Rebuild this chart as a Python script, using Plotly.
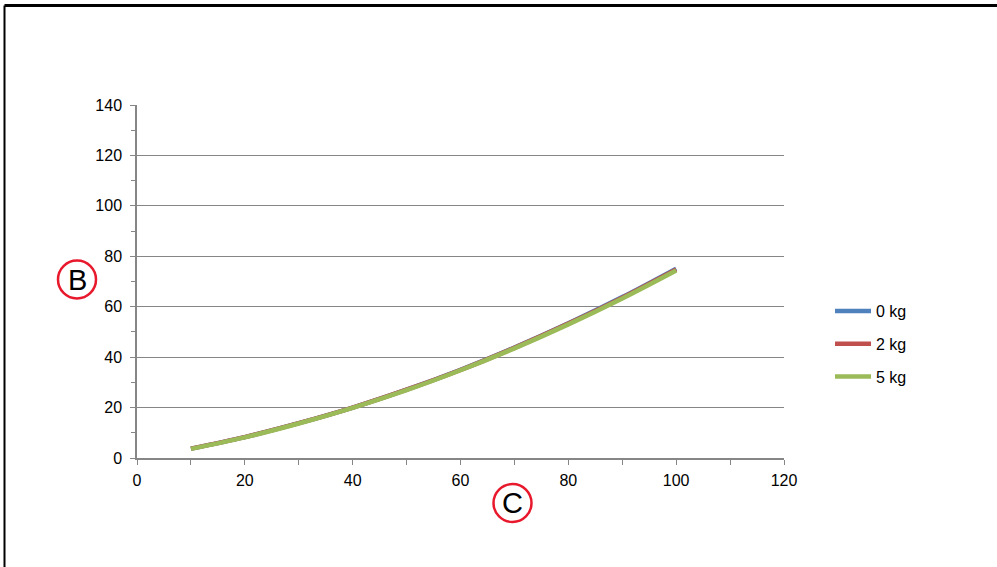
import plotly.graph_objects as go

# data
x_vals = [10, 20, 30, 40, 50, 60, 70, 80, 90, 100]
y_0kg = [3.7, 8.3, 13.8, 20.0, 27.1, 35.0, 43.8, 53.4, 63.8, 75.1]
y_2kg = [3.7, 8.3, 13.8, 20.0, 27.1, 34.9, 43.7, 53.3, 63.6, 74.8]
y_5kg = [3.6, 8.2, 13.7, 19.9, 26.9, 34.8, 43.5, 53.0, 63.3, 74.4]
series_names = ["0 kg", "2 kg", "5 kg"]
colors = ["#4f81bd", "#c0504d", "#9bbb59"]

W, H = 997, 567
L, R, T, B = 137, 213, 105, 109
pw, ph = W - L - R, H - T - B


def px(x):
    return (x - L) / pw


def py(y):
    return (H - B - y) / ph


fig = go.Figure()
for name, ys, col in zip(series_names, [y_0kg, y_2kg, y_5kg], colors):
    fig.add_trace(go.Scatter(
        x=x_vals, y=ys, mode="lines", name=name, legendgroup=name,
        line=dict(color=col, width=4.5, shape="spline"),
    ))

axis_col = "#868686"
fig.update_xaxes(
    range=[0, 120], dtick=20, tick0=0, showgrid=False, zeroline=False,
    showline=True, linecolor=axis_col, linewidth=1.5,
    ticks="outside", ticklen=5, tickcolor=axis_col, tickwidth=1,
    minor=dict(ticks="outside", ticklen=5, dtick=10, tickcolor=axis_col, showgrid=False),
    tickfont=dict(size=16, color="#000"), ticklabelstandoff=2,
)
fig.update_yaxes(
    range=[0, 140], dtick=20, tick0=0, showgrid=True, gridcolor=axis_col, gridwidth=1,
    zeroline=False, showline=True, linecolor=axis_col, linewidth=1.5,
    ticks="outside", ticklen=5, tickcolor=axis_col, tickwidth=1,
    minor=dict(ticks="outside", ticklen=4, dtick=10, tickcolor=axis_col, showgrid=False),
    tickfont=dict(size=16, color="#000"), ticklabelstandoff=5,
)

# outer frame (only top and left edges visible)
fig.add_shape(type="line", xref="paper", yref="paper",
              x0=px(4.5), x1=px(1000), y0=py(5.5), y1=py(5.5),
              line=dict(color="black", width=3))
fig.add_shape(type="line", xref="paper", yref="paper",
              x0=px(4.5), x1=px(4.5), y0=py(5.5), y1=py(570),
              line=dict(color="black", width=2))

# circled axis markers
for letter, cx, cy in [("B", 77, 279.5), ("C", 512.5, 503)]:
    fig.add_shape(type="circle", xref="paper", yref="paper",
                  x0=px(cx - 19), x1=px(cx + 19), y0=py(cy + 19), y1=py(cy - 19),
                  line=dict(color="#e8192c", width=2.5))
    fig.add_annotation(x=px(cx), y=py(cy), xref="paper", yref="paper",
                       xanchor="center", yanchor="middle",
                       text=letter, showarrow=False,
                       font=dict(size=29, color="#000"))

fig.update_layout(
    width=W, height=H,
    margin=dict(l=L, r=R, t=T, b=B),
    plot_bgcolor="white", paper_bgcolor="white",
    font=dict(family="Liberation Sans, Arial, sans-serif", size=16, color="#000"),
    showlegend=True,
    legend=dict(x=px(830), y=py(294), xanchor="left", yanchor="top",
                tracegroupgap=9, itemwidth=36, font=dict(size=16),
                bgcolor="rgba(0,0,0,0)"),
)

fig.write_html("out.html", config={"displayModeBar": False},
               post_script="document.body.style.margin='0';")
